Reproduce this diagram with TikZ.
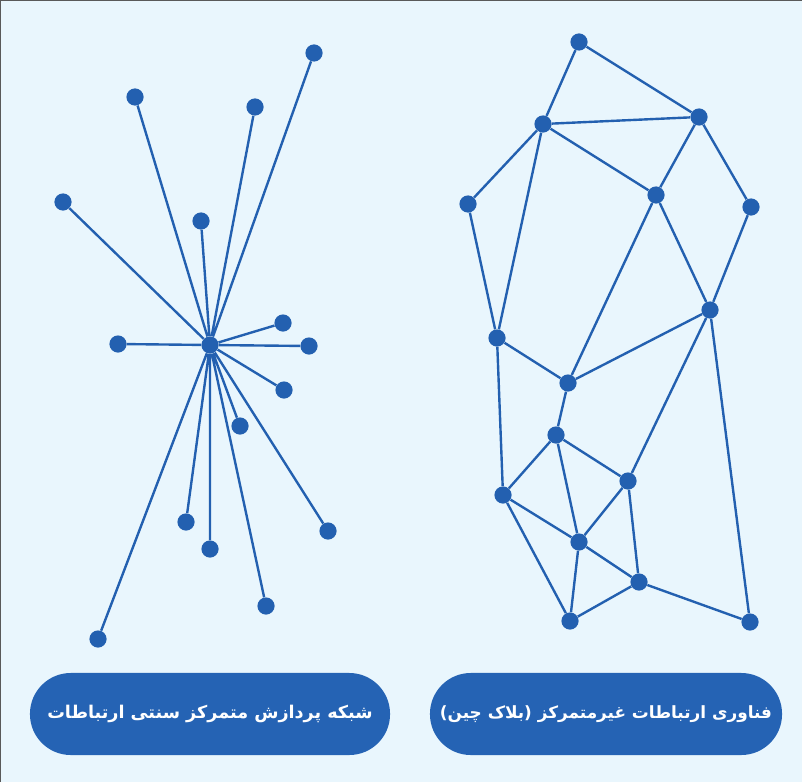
\documentclass[tikz,border=0pt]{standalone}
\usepackage{fontspec}
\newfontfamily\farsifont[Script=Arabic]{DejaVu Sans}
\TeXXeTstate=1
\definecolor{netblue}{HTML}{2360B0}
\definecolor{pillblue}{HTML}{2563B4}
\definecolor{paper}{HTML}{E9F6FD}

\begin{document}
\begin{tikzpicture}[x=0.025cm,y=-0.025cm,dot/.style={circle,fill=netblue,inner sep=0pt,minimum size=0.43cm},link/.style={draw=netblue,line width=1.7pt},pill/.style={fill=pillblue,rounded corners=1.02cm,minimum height=2.05cm,text=white,font=\farsifont\bfseries\fontsize{12.5}{15}\selectfont}]
	\useasboundingbox (0,0) rectangle (802,782);
	\fill[paper] (0,0) rectangle (802,782);
	\draw[gray!70!black,line width=0.8pt] (0,782) -- (0,0) -- (802,0);

	% centralised star
	\node[dot] (hub) at (210,345) {};
	\node[dot] (s1) at (314,53) {};
	\node[dot] (s2) at (135,97) {};
	\node[dot] (s3) at (255,107) {};
	\node[dot] (s4) at (63,202) {};
	\node[dot] (s5) at (201,221) {};
	\node[dot] (s6) at (118,344) {};
	\node[dot] (s7) at (283,323) {};
	\node[dot] (s8) at (309,346) {};
	\node[dot] (s9) at (284,390) {};
	\node[dot] (s10) at (240,426) {};
	\node[dot] (s11) at (186,522) {};
	\node[dot] (s12) at (210,549) {};
	\node[dot] (s13) at (328,531) {};
	\node[dot] (s14) at (266,606) {};
	\node[dot] (s15) at (98,639) {};
	\draw[link] (hub) -- (s1) (hub) -- (s2) (hub) -- (s3) (hub) -- (s4) (hub) -- (s5)
		(hub) -- (s6) (hub) -- (s7) (hub) -- (s8) (hub) -- (s9) (hub) -- (s10)
		(hub) -- (s11) (hub) -- (s12) (hub) -- (s13) (hub) -- (s14) (hub) -- (s15);

	% decentralised mesh
	\node[dot] (a) at (579,42) {};
	\node[dot] (b) at (543,124) {};
	\node[dot] (c) at (699,117) {};
	\node[dot] (d) at (468,204) {};
	\node[dot] (e) at (656,195) {};
	\node[dot] (f) at (751,207) {};
	\node[dot] (g) at (710,310) {};
	\node[dot] (h) at (497,338) {};
	\node[dot] (i) at (568,383) {};
	\node[dot] (j) at (556,435) {};
	\node[dot] (k) at (628,481) {};
	\node[dot] (l) at (503,495) {};
	\node[dot] (m) at (579,542) {};
	\node[dot] (n) at (639,582) {};
	\node[dot] (o) at (570,621) {};
	\node[dot] (p) at (750,622) {};
	\draw[link] (a) -- (b) (a) -- (c) (b) -- (c) (b) -- (d) (b) -- (e) (b) -- (h)
		(c) -- (e) (c) -- (f) (d) -- (h) (e) -- (i) (e) -- (g) (f) -- (g)
		(h) -- (i) (h) -- (l) (g) -- (i) (g) -- (k) (g) -- (p) (i) -- (j)
		(j) -- (l) (j) -- (m) (j) -- (k) (k) -- (m) (k) -- (n) (l) -- (m)
		(l) -- (o) (m) -- (o) (m) -- (n) (n) -- (o) (n) -- (p);

	% captions
	\node[pill,minimum width=9cm] (central) at (210,714) {\beginR شبکه پردازش متمرکز سنتی ارتباطات\endR};
	\node[pill,minimum width=8.8cm,font=\farsifont\bfseries\fontsize{12}{15}\selectfont] (decentral) at (606,714) {\beginR فناوری ارتباطات غیرمتمرکز (بلاک چین)\endR};
\end{tikzpicture}
\end{document}
